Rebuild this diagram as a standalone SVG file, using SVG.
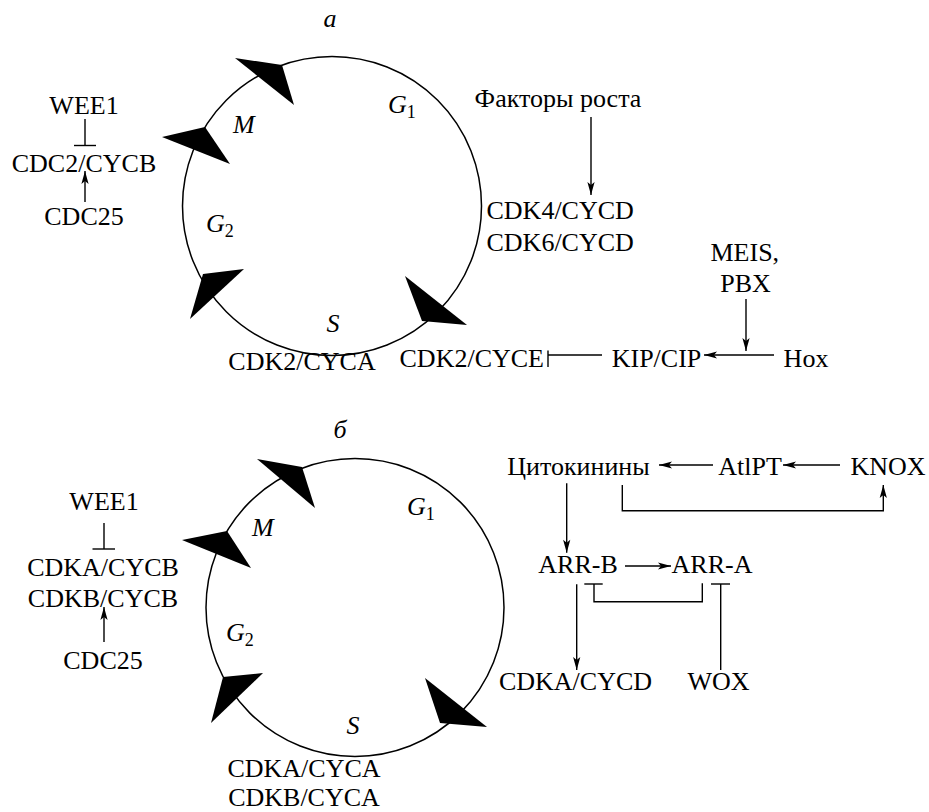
<svg xmlns="http://www.w3.org/2000/svg" width="929" height="812" viewBox="0 0 929 812" font-family="'Liberation Serif', 'DejaVu Serif', serif">
<style>
text{font-family:'Liberation Serif','DejaVu Serif',serif;font-size:26px;fill:#000}
.c{text-anchor:middle}
.e{text-anchor:end}
.i{font-style:italic}
.sub{font-size:18px;font-style:normal}
.cyc{fill:none;stroke:#000;stroke-width:1.5}
.ln{fill:none;stroke:#000;stroke-width:1.4}
.ar{marker-end:url(#ah)}
.head{fill:#000;stroke:none}
</style>
<defs>
<marker id="ah" markerUnits="userSpaceOnUse" markerWidth="16" markerHeight="10" viewBox="-14 -5 16 10" refX="0" refY="0" orient="auto">
<path d="M0,0 L-13,-3.6 L-10,0 L-13,3.6 z" fill="#000"/>
</marker>
</defs>
<rect width="929" height="812" fill="#fff"/>

<g id="panel-a">
<text class="c i" x="330" y="27">а</text>
<g id="cycle-a">
<circle class="cyc" cx="332" cy="206" r="149.5"/>
<polygon class="head" points="235,58 282,65 294,105"/>
<polygon class="head" points="162,137 205,127 230,164"/>
<polygon class="head" points="190,319 203,274 244,269"/>
<polygon class="head" points="405,276 467,325 422,321"/>
<text class="i" x="233" y="133">M</text>
<text class="i" x="388" y="113">G<tspan class="sub" dy="5">1</tspan></text>
<text class="i" x="206" y="232">G<tspan class="sub" dy="5">2</tspan></text>
<text class="c i" x="333" y="332">S</text>
</g>
<g id="a-wee1"><text class="c" x="84" y="114">WEE1</text></g>
<g id="a-cdc2"><text class="c" x="84" y="171.5">CDC2/CYCB</text></g>
<g id="a-cdc25"><text class="c" x="84" y="225">CDC25</text></g>
<g id="a-cdk2a"><text class="c" x="302" y="370">CDK2/CYCA</text></g>
<g id="a-cdk2e"><text class="e" x="544" y="367">CDK2/CYCE</text></g>
<g id="a-kip"><text class="c" x="656.5" y="367">KIP/CIP</text></g>
<g id="a-hox"><text class="c" x="806" y="367">Hox</text></g>
<g id="a-meis"><text x="710.5" y="260.5">MEIS,</text><text class="c" x="745.5" y="291.5">PBX</text></g>
<g id="a-growth"><text class="c" x="558" y="107">Факторы роста</text></g>
<g id="a-cdk46"><text x="486.5" y="219">CDK4/CYCD</text><text x="486.5" y="250.5">CDK6/CYCD</text></g>
</g>

<g id="panel-b">
<text class="c i" x="340" y="438">б</text>
<g id="cycle-b">
<circle class="cyc" cx="355" cy="607.5" r="149"/>
<polygon class="head" points="257,459 302,467 315,508"/>
<polygon class="head" points="182,540 227,531 251,568"/>
<polygon class="head" points="211,723 223,677 263,673"/>
<polygon class="head" points="425,678 487,727 440,723"/>
<text class="i" x="252" y="536">M</text>
<text class="i" x="407" y="515">G<tspan class="sub" dy="5">1</tspan></text>
<text class="i" x="226" y="641">G<tspan class="sub" dy="5">2</tspan></text>
<text class="c i" x="353" y="734">S</text>
</g>
<g id="b-wee1"><text class="c" x="104" y="510">WEE1</text></g>
<g id="b-cdkb"><text class="c" x="103" y="576">CDKA/CYCB</text><text class="c" x="103" y="606.5">CDKB/CYCB</text></g>
<g id="b-cdc25"><text class="c" x="103" y="669">CDC25</text></g>
<g id="b-cdka"><text class="c" x="304" y="777">CDKA/CYCA</text><text class="c" x="304" y="806">CDKB/CYCA</text></g>
<g id="b-cyto"><text class="c" x="578.5" y="475">Цитокинины</text></g>
<g id="b-atipt"><text class="c" x="750" y="475">AtlPT</text></g>
<g id="b-knox"><text class="c" x="888" y="475">KNOX</text></g>
<g id="b-arrb"><text class="c" x="578" y="572.5">ARR-B</text></g>
<g id="b-arra"><text class="c" x="712" y="572.5">ARR-A</text></g>
<g id="b-cdkd"><text class="c" x="575.5" y="690">CDKA/CYCD</text></g>
<g id="b-wox"><text class="c" x="718.5" y="690">WOX</text></g>
</g>

<g id="connectors">
<line class="ln" x1="85" y1="119" x2="85" y2="145.5"/>
<line class="ln" x1="74" y1="145.5" x2="96" y2="145.5"/>
<line class="ln ar" x1="85" y1="202" x2="85" y2="171"/>
<line class="ln ar" x1="591" y1="117" x2="591" y2="195"/>
<line class="ln ar" x1="746" y1="299" x2="746" y2="351"/>
<line class="ln ar" x1="774" y1="355" x2="704" y2="355"/>
<line class="ln" x1="548" y1="355" x2="602" y2="355"/>
<line class="ln" x1="548" y1="350.5" x2="548" y2="367"/>

<line class="ln" x1="104" y1="523" x2="104" y2="549"/>
<line class="ln" x1="92.5" y1="549" x2="115" y2="549"/>
<line class="ln ar" x1="104" y1="642" x2="104" y2="607"/>
<line class="ln ar" x1="713" y1="465" x2="659" y2="465"/>
<line class="ln ar" x1="840" y1="465" x2="783" y2="465"/>
<polyline class="ln ar" points="622.3,485 622.3,510.7 883.3,510.7 883.3,485"/>
<line class="ln ar" x1="566.7" y1="483.3" x2="566.7" y2="552.7"/>
<line class="ln ar" x1="625" y1="566" x2="671" y2="566"/>
<line class="ln ar" x1="576.7" y1="584.3" x2="576.7" y2="670"/>
<polyline class="ln" points="702.3,583.3 702.3,601.7 594,601.7 594,584"/>
<line class="ln" x1="584.3" y1="584" x2="602.7" y2="584"/>
<line class="ln" x1="720.7" y1="670" x2="720.7" y2="584"/>
<line class="ln" x1="711" y1="584" x2="730" y2="584"/>
</g>
</svg>
